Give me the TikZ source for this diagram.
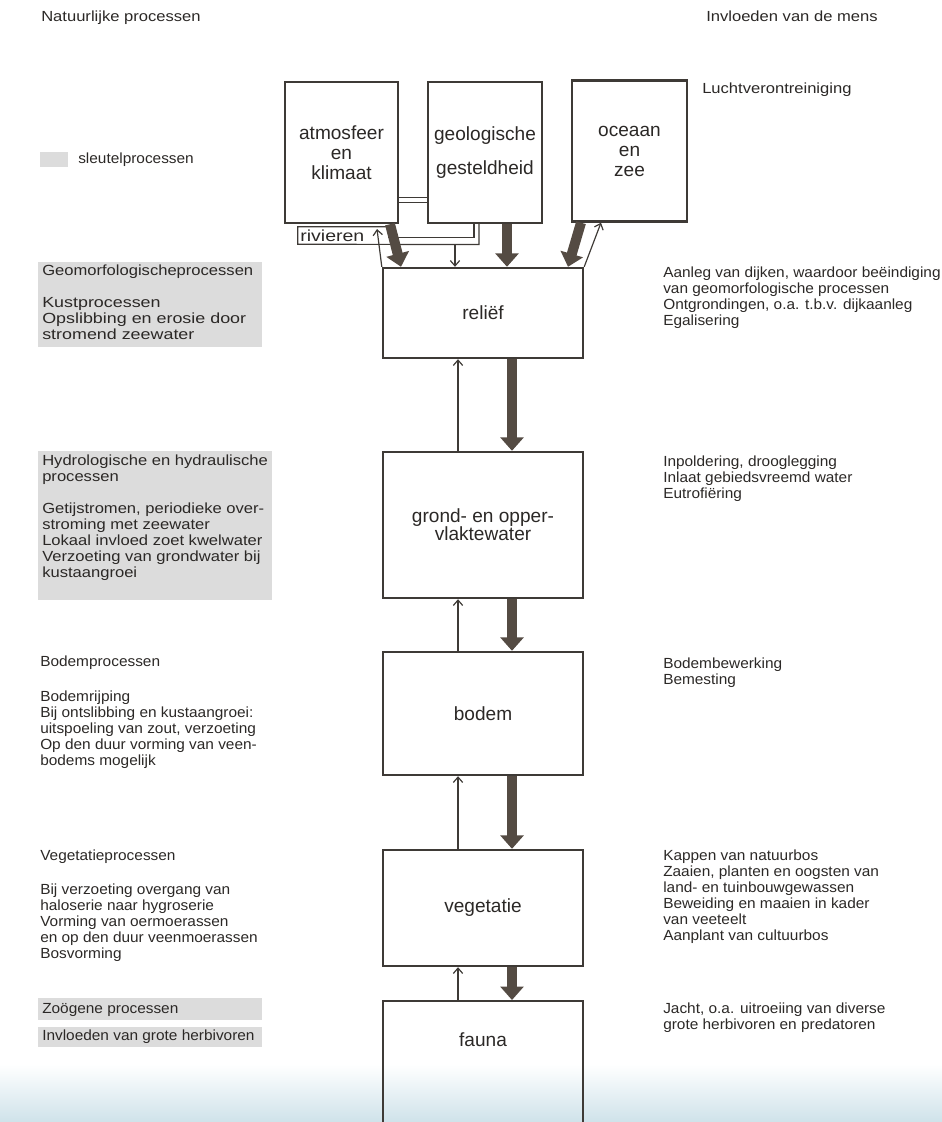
\documentclass[tikz,border=0pt]{standalone}
\usepackage{fontspec}
\setmainfont{Liberation Sans}
\newfontfamily\wA[FakeStretch=1.05]{Liberation Sans}
\newfontfamily\wB[FakeStretch=1.13]{Liberation Sans}
\newfontfamily\wC[FakeStretch=1.22]{Liberation Sans}
\usetikzlibrary{arrows.meta}
\definecolor{ink}{HTML}{2B2826}
\definecolor{edgec}{HTML}{3E3A36}
\definecolor{fatc}{HTML}{544B43}
\definecolor{shadec}{HTML}{DCDCDC}
\definecolor{bluec}{HTML}{CFE2EA}
\begin{document}
\begin{tikzpicture}[x=0.75pt,y=-0.75pt,
  mainbox/.style={draw=edgec, line width=1.8pt, inner sep=0pt, align=center, text=ink,
    font=\fontsize{14.3}{15}\selectfont},
  boxlbl/.style={inner sep=0pt, align=center, text=ink, font=\fontsize{14.3}{15}\selectfont},
  txt/.style={anchor=north west, inner sep=0pt, align=left, text=ink, font={\wA\fontsize{11}{12}\selectfont}},
  txtB/.style={txt, font={\wB\fontsize{11}{12}\selectfont}},
  txtC/.style={txt, font={\wC\fontsize{11}{12}\selectfont}},
  fat/.style={draw=fatc, line width=7.5pt, -{Triangle[width=17pt,length=10pt]}},
  thinarr/.style={draw=edgec, line width=0.9pt, -{Straight Barb[length=4pt,width=7pt]}},
  pipe/.style={draw=edgec, line width=0.9pt},
  shadebox/.style={fill=shadec}
]
\useasboundingbox (0,0) rectangle (942,1122);
\shade[top color=white, bottom color=bluec] (0,1064) rectangle (942,1122);

% shaded key-process areas
\fill[shadebox] (40,152) rectangle (68,167);
\fill[shadebox] (38,262) rectangle (262,347);
\fill[shadebox] (38,451) rectangle (272,600);
\fill[shadebox] (38,998) rectangle (262,1020);
\fill[shadebox] (38,1027) rectangle (262,1047);

% headers
\node[txtB] (hl) at (41,11) {Natuurlijke processen};
\node[txtB] (hr) at (706,11) {Invloeden van de mens};
\node[txtB] (lucht) at (702,83) {Luchtverontreiniging};
\node[txt] (key) at (78,153) {sleutelprocessen};

% top boxes
\node[mainbox, minimum width=84.75pt, minimum height=105.75pt] (atm) at (341.5,152.5) {atmosfeer\\en\\klimaat};
\node[mainbox, minimum width=85.5pt, minimum height=105.75pt] (geo) at (485,152.5) {geologische\\[10.5pt]gesteldheid};
\node[mainbox, minimum width=86.25pt, minimum height=105.75pt] (oce) at (629.5,151) {oceaan\\en\\zee};

% main column
\node[mainbox, minimum width=150pt, minimum height=67.5pt] (rel) at (483,313) {reliëf};
\node[mainbox, minimum width=150pt, minimum height=109.5pt, font=\fontsize{14.3}{13.5}\selectfont] (gw) at (483,525) {grond- en opper-\\vlaktewater};
\node[mainbox, minimum width=150pt, minimum height=92.25pt] (bod) at (483,713.5) {bodem};
\node[mainbox, minimum width=150pt, minimum height=87pt] (veg) at (483,908) {vegetatie};
\node[mainbox, minimum width=150pt, minimum height=105pt, anchor=north] (fau) at (483,1000) {};
\node[boxlbl] (faul) at (483,1040) {fauna};

% connector atmosfeer - geologie
\draw[pipe, double, double distance=2.6pt] (atm.east |- 0,200) -- (geo.west |- 0,200);

% rivieren
\node[inner sep=0pt, minimum width=67.5pt, minimum height=12.75pt, text width=64pt, align=left,
  text=ink, font={\wC\fontsize{12}{12}\selectfont}] (riv) at (343,235.5) {rivieren};
\coordinate (pipeA) at (474,237.5);
\coordinate (pipeB) at (479,244.5);
\coordinate (rivTip) at (377,229);
\draw[pipe] (riv.north east) -- (riv.north west) -- (riv.south west) -- (pipeB) -- (geo.south -| pipeB);
\draw[pipe] (riv.east |- pipeA) -- (pipeA) -- (geo.south -| pipeA);

% arrows into relief
\draw[fat] (atm.south -| 390,0) -- (rel.north -| 401,0);
\draw[fat] (geo.south -| 507,0) -- (rel.north -| 507,0);
\draw[fat] (oce.south -| 581,0) -- (rel.north -| 568,0);
\draw[thinarr] (455,244.5) -- (rel.north -| 455,0);
\draw[thinarr] (rel.north west) -- (rivTip);
\draw[thinarr] (rel.north east) -- (oce.south -| 601,0);

% vertical arrows
\foreach \a/\b in {rel/gw, gw/bod, bod/veg, veg/fau}{
  \draw[thinarr] (\b.north -| 458,0) -- (\a.south -| 458,0);
  \draw[fat] (\a.south -| 512,0) -- (\b.north -| 512,0);
}

% left texts
\node[txtC] (lgeo) at (42,265) {{\wB\fontsize{11}{12}\selectfont Geomorfologischeprocessen}\\[12pt]Kustprocessen\\Opslibbing en erosie door\\stromend zeewater};
\node[txtB] (lhyd) at (42,455) {Hydrologische en hydraulische\\processen\\[12pt]Getijstromen, periodieke over-\\stroming met zeewater\\Lokaal invloed zoet kwelwater\\Verzoeting van grondwater bij\\kustaangroei};
\node[txt] (lbod) at (40,656) {Bodemprocessen\\[14pt]Bodemrijping\\Bij ontslibbing en kustaangroei:\\uitspoeling van zout, verzoeting\\Op den duur vorming van veen-\\bodems mogelijk};
\node[txt] (lveg) at (40,850) {Vegetatieprocessen\\[13pt]Bij verzoeting overgang van\\haloserie naar hygroserie\\Vorming van oermoerassen\\en op den duur veenmoerassen\\Bosvorming};
\node[txt] (lzoo) at (42,1003) {Zoögene processen\\[8pt]Invloeden van grote herbivoren};

% right texts
\node[txt] (rrel) at (663,267) {Aanleg van dijken, waardoor beëindiging\\van geomorfologische processen\\Ontgrondingen, o.a. t.b.v. dijkaanleg\\Egalisering};
\node[txt] (rgw) at (663,456) {Inpoldering, drooglegging\\Inlaat gebiedsvreemd water\\Eutrofiëring};
\node[txt] (rbod) at (663,658) {Bodembewerking\\Bemesting};
\node[txt] (rveg) at (663,850) {Kappen van natuurbos\\Zaaien, planten en oogsten van\\land- en tuinbouwgewassen\\Beweiding en maaien in kader\\van veeteelt\\Aanplant van cultuurbos};
\node[txt] (rfau) at (663,1003) {Jacht, o.a. uitroeiing van diverse\\grote herbivoren en predatoren};
\end{tikzpicture}
\end{document}
